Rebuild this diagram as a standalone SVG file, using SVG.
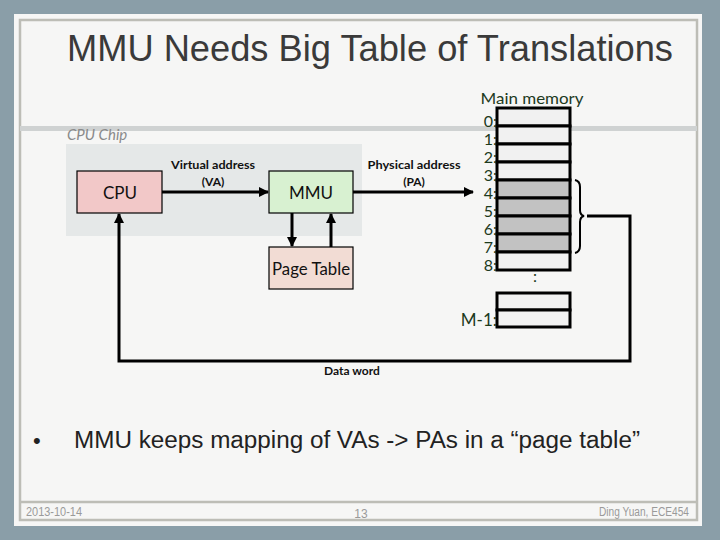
<svg xmlns="http://www.w3.org/2000/svg" width="720" height="540" viewBox="0 0 720 540">
<style>
.lbl{font-family:"Lato","Noto Sans","Liberation Sans",sans-serif;fill:#111}
.mem{font-family:"Lato","Noto Sans","Liberation Sans",sans-serif;fill:#1d3a1d;font-size:16px}
.small{font-family:"Lato","Noto Sans","Liberation Sans",sans-serif;font-size:12px;font-weight:bold;fill:#111;text-anchor:middle}
.foot{font-family:"Liberation Sans",sans-serif;fill:#9a9a9a;font-size:12px}
.box{stroke:#000;stroke-width:1.2}
.cell{stroke:#000;stroke-width:3}
.conn{fill:none;stroke:#000;stroke-width:3}
</style>
<defs>
<marker id="ah" markerUnits="userSpaceOnUse" markerWidth="10" markerHeight="10" viewBox="0 0 10 10" refX="9" refY="5" orient="auto">
<path d="M0,0 L10,5 L0,10 z" fill="#000"/>
</marker>
</defs>
<rect x="0" y="0" width="720" height="540" fill="#8a9ea8"/>
<rect x="14" y="14" width="688" height="512" fill="#f6f6f5"/>
<rect x="20" y="20" width="677" height="500" fill="none" stroke="#bdbdb6" stroke-width="2.5"/>
<line x1="20" y1="502" x2="697" y2="502" stroke="#bdbdb6" stroke-width="2.5"/>
<rect x="20" y="126" width="677" height="5" fill="#cfd2d2"/>
<text x="67" y="61" font-family="Liberation Sans,Arial,sans-serif" font-size="37" fill="#3a3a3a" textLength="606" lengthAdjust="spacingAndGlyphs">MMU Needs Big Table of Translations</text>

<g id="cpu-chip">
<rect x="66" y="144" width="296" height="92" fill="#e5e8e8"/>
<text x="67" y="140" font-family="Lato,'Noto Sans',sans-serif" font-style="italic" font-size="15" fill="#8a8a8a">CPU Chip</text>
</g>
<g id="cpu">
<rect class="box" x="77" y="171" width="85" height="42" fill="#f2c8c8"/>
<text class="lbl" x="120" y="199" font-size="17" text-anchor="middle">CPU</text>
</g>
<g id="mmu">
<rect class="box" x="269" y="171" width="84" height="42" fill="#d8f1d1"/>
<text class="lbl" x="311" y="199" font-size="17" text-anchor="middle">MMU</text>
</g>
<g id="page-table">
<rect class="box" x="269" y="247" width="84" height="42" fill="#f2dcd4"/>
<text class="lbl" x="311" y="275" font-size="17" text-anchor="middle" textLength="78" lengthAdjust="spacingAndGlyphs">Page Table</text>
</g>
<g id="main-memory">
<text class="mem" x="532" y="104" text-anchor="middle" font-size="17" textLength="103" lengthAdjust="spacingAndGlyphs">Main memory</text>
<rect class="cell" x="497" y="108" width="73" height="18" fill="#f1f1f1"/>
<rect class="cell" x="497" y="126" width="73" height="18" fill="#f1f1f1"/>
<rect class="cell" x="497" y="144" width="73" height="18" fill="#f1f1f1"/>
<rect class="cell" x="497" y="162" width="73" height="18" fill="#f1f1f1"/>
<rect class="cell" x="497" y="180" width="73" height="18" fill="#c2c2c2"/>
<rect class="cell" x="497" y="198" width="73" height="18" fill="#c2c2c2"/>
<rect class="cell" x="497" y="216" width="73" height="18" fill="#c2c2c2"/>
<rect class="cell" x="497" y="234" width="73" height="18" fill="#c2c2c2"/>
<rect class="cell" x="497" y="252" width="73" height="18" fill="#f1f1f1"/>
<rect class="cell" x="497" y="293" width="73" height="17" fill="#f1f1f1"/>
<rect class="cell" x="497" y="310" width="73" height="17" fill="#f1f1f1"/>
<g class="mem" text-anchor="end">
<text x="497" y="127">0:</text>
<text x="497" y="145">1:</text>
<text x="497" y="163">2:</text>
<text x="497" y="181">3:</text>
<text x="497" y="199">4:</text>
<text x="497" y="217">5:</text>
<text x="497" y="235">6:</text>
<text x="497" y="253">7:</text>
<text x="497" y="271">8:</text>
<text x="497" y="326" font-size="17">M-1:</text>
</g>
<text class="mem" x="535" y="282" text-anchor="middle" font-size="14">:</text>
<path d="M575,180 Q580,181 580,187 L580,210 Q580,215 584,216 Q580,217 580,222 L580,246 Q580,252 575,253" fill="none" stroke="#000" stroke-width="2"/>
</g>
<g id="connectors">
<line class="conn" x1="162" y1="192" x2="268" y2="192" marker-end="url(#ah)"/>
<line class="conn" x1="353" y1="192" x2="473" y2="192" marker-end="url(#ah)"/>
<line class="conn" x1="292" y1="213" x2="292" y2="246" marker-end="url(#ah)"/>
<line class="conn" x1="331" y1="247" x2="331" y2="214" marker-end="url(#ah)"/>
<polyline class="conn" points="587,216 630,216 630,361 119,361 119,214" marker-end="url(#ah)"/>
<text class="small" x="213" y="169" textLength="84" lengthAdjust="spacingAndGlyphs">Virtual address</text>
<text class="small" x="213" y="186">(VA)</text>
<text class="small" x="414" y="169" textLength="93" lengthAdjust="spacingAndGlyphs">Physical address</text>
<text class="small" x="414" y="186">(PA)</text>
<text class="small" x="352" y="375">Data word</text>
</g>
<text x="33" y="448" font-family="Liberation Sans,Arial,sans-serif" font-size="22" fill="#222">•</text>
<text x="74" y="448" font-family="Liberation Sans,Arial,sans-serif" font-size="23" fill="#222" textLength="566" lengthAdjust="spacingAndGlyphs">MMU keeps mapping of VAs -&gt; PAs in a “page table”</text>
<text class="foot" x="26" y="516" textLength="56" lengthAdjust="spacingAndGlyphs">2013-10-14</text>
<text class="foot" x="361" y="518" font-size="14" text-anchor="middle">13</text>
<text class="foot" x="689" y="516" text-anchor="end" textLength="90" lengthAdjust="spacingAndGlyphs">Ding Yuan, ECE454</text>
</svg>
